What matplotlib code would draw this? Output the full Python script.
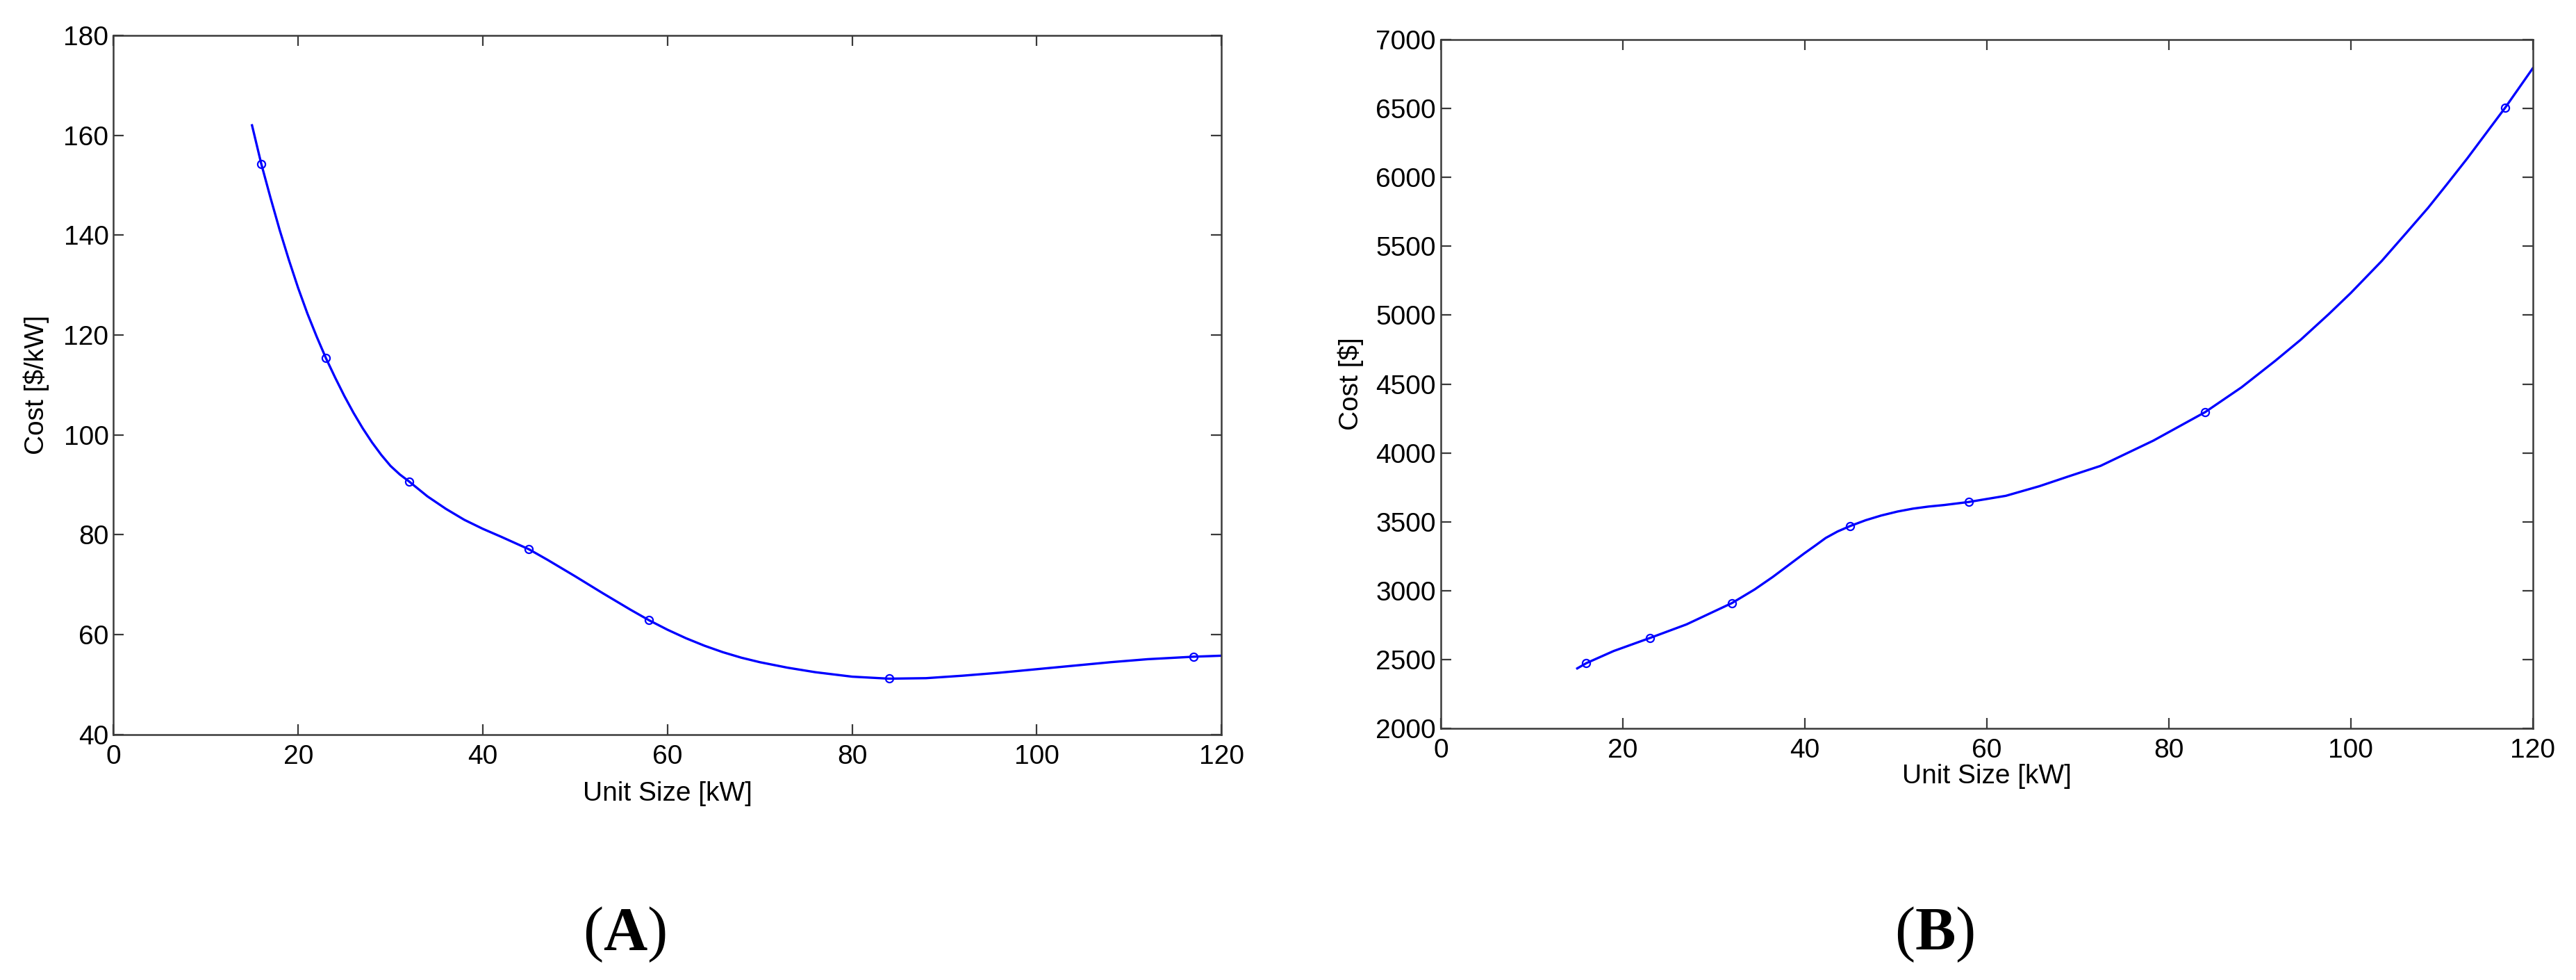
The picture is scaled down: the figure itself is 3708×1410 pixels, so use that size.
import matplotlib.pyplot as plt

plt.rcParams['font.family'] = 'Liberation Sans'
plt.rcParams['mathtext.fontset'] = 'custom'
plt.rcParams['mathtext.rm'] = 'Liberation Serif'
plt.rcParams['mathtext.bf'] = 'Liberation Serif:bold'

# measured unit sizes (markers)
unit_kw = [16, 23, 32, 45, 58, 84, 117]
cost_per_kw = [154.3, 115.4, 90.7, 77.1, 62.9, 51.2, 55.6]
cost_total = [2475, 2658, 2911, 3470, 3644, 4296, 6505]

# fitted curves
fit_a_x = [15, 16, 17, 18, 19, 20, 21, 22, 23, 24, 25, 26, 27, 28, 29, 30, 31, 32,
           34, 36, 38, 40, 42, 45, 47, 50, 53, 56, 58, 60, 62, 64, 66, 68, 70, 73,
           76, 80, 84, 88, 92, 96, 100, 104, 108, 112, 117, 120]
fit_a_y = [162, 154.3, 147.5, 141, 135, 129.4, 124.3, 119.7, 115.4, 111.5, 107.8, 104.4,
           101.3, 98.5, 96, 93.8, 92.1, 90.7, 87.7, 85.2, 83.0, 81.2, 79.6, 77.1, 75.0,
           71.7, 68.3, 65.0, 62.9, 61.0, 59.3, 57.8, 56.5, 55.4, 54.5, 53.4, 52.5, 51.6,
           51.2, 51.3, 51.8, 52.4, 53.1, 53.8, 54.5, 55.1, 55.6, 55.8]
fit_b_x = [15, 16, 19, 23, 27, 32, 34.5, 36.5, 38.2, 39.9, 41.2, 42.3, 43.6, 45, 46.7,
           48.4, 50.2, 51.9, 53.6, 55.3, 58, 62.1, 65.8, 69, 72.5, 78.3, 84, 88, 91.7,
           94.5, 97.6, 100, 103.4, 106, 108.5, 110.5, 112.8, 117, 120]
fit_b_y = [2437, 2475, 2563, 2658, 2756, 2911, 3010, 3101, 3185, 3269, 3330, 3383, 3430,
           3470, 3512, 3546, 3575, 3596, 3611, 3622, 3644, 3689, 3759, 3830, 3906, 4089,
           4296, 4476, 4668, 4821, 5008, 5160, 5392, 5588, 5778, 5943, 6136, 6507, 6790]

fig = plt.figure(figsize=(37.08, 14.10), dpi=100)
ax1 = fig.add_axes([0.04407, 0.2504, 0.4301, 0.7135])
ax2 = fig.add_axes([0.5593, 0.2565, 0.4239, 0.7033])

def style(ax):
    for s in ax.spines.values():
        s.set_linewidth(1.8)
        s.set_color('#3a3a3a')
    ax.tick_params(direction='in', length=11, width=1.6, color='#3a3a3a',
                   labelsize=28, top=True, right=True)
    ax.tick_params(axis='x', pad=10)
    ax.tick_params(axis='y', pad=5)
    ax.set_xlim(0, 120)
    ax.set_xticks(range(0, 121, 20))

ax1.plot(fit_a_x, fit_a_y, color='blue', lw=2.4, solid_joinstyle='round')
ax1.plot(unit_kw, cost_per_kw, 'o', mfc='none', mec='blue', ms=8, mew=1.6)
style(ax1)
ax1.set_ylim(40, 180)
ax1.set_yticks(range(40, 181, 20))
ax1.set_xlabel('Unit Size [kW]', fontsize=28)
ax1.set_ylabel('Cost [$/kW]', fontsize=28)
ax1.xaxis.set_label_coords(0.5, -0.0845)
ax1.xaxis.label.set_va('center')
ax1.yaxis.set_label_coords(-0.0698, 0.5)
ax1.yaxis.label.set_va('center')

ax2.plot(fit_b_x, fit_b_y, color='blue', lw=2.4, solid_joinstyle='round')
ax2.plot(unit_kw, cost_total, 'o', mfc='none', mec='blue', ms=8, mew=1.6)
style(ax2)
ax2.set_ylim(2000, 7000)
ax2.set_yticks(range(2000, 7001, 500))
ax2.set_xlabel('Unit Size [kW]', fontsize=28)
ax2.set_ylabel('Cost [$]', fontsize=28)
ax2.xaxis.set_label_coords(0.5, -0.0696)
ax2.xaxis.label.set_va('center')
ax2.yaxis.set_label_coords(-0.0827, 0.5)
ax2.yaxis.label.set_va('center')

fig.text(899 / 3708, 1 - 1345 / 1410, r'($\mathbf{A}$)', fontsize=63,
         family='Liberation Serif', ha='center', va='center')
fig.text(2784 / 3708, 1 - 1345 / 1410, r'($\mathbf{B}$)', fontsize=63,
         family='Liberation Serif', ha='center', va='center')

fig.savefig('out.png', dpi=100)
